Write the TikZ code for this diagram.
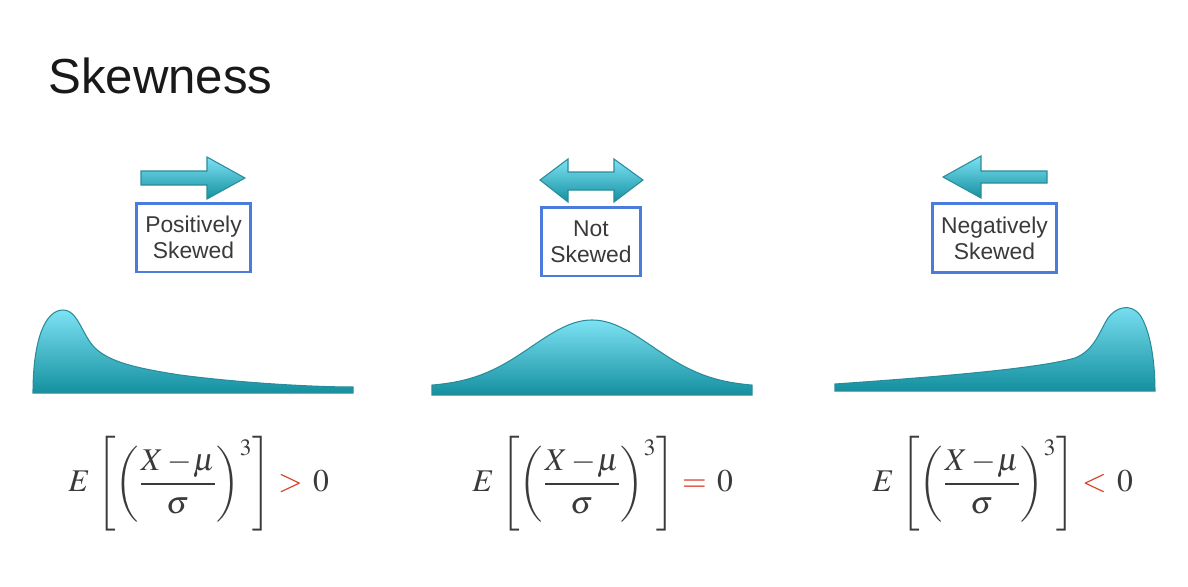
\documentclass[tikz,border=0pt]{standalone}
\usepackage{mathptmx}
\usepackage[no-math]{fontspec}
\newfontfamily\slidefont{Liberation Sans}
\usepackage{xcolor}
\definecolor{boxblue}{HTML}{4A7BDD}
\definecolor{tealdark}{HTML}{14909F}
\definecolor{teallight}{HTML}{7DE2F4}
\definecolor{tealedge}{HTML}{2A8C9A}
\definecolor{relred}{HTML}{D93A22}
\definecolor{textgray}{HTML}{3A3A3A}
\newcommand{\skewmoment}[1]{$\displaystyle E\mkern2mu\left[\left(\frac{X-\!\mu}{\sigma}\right)^{3}\right]\mathrel{\textcolor{relred}{#1}}\,0$}

\begin{document}
\begin{tikzpicture}[x=0.02cm, y=-0.02cm,
    lbl/.style={draw=boxblue, line width=1.7pt, fill=white, align=center, inner xsep=0.17cm,
        minimum height=1.38cm, text=textgray, font=\slidefont\fontsize{13}{14.8}\selectfont},
    hump/.style={top color=teallight, bottom color=tealdark, draw=tealedge, line width=0.6pt},
    formula/.style={anchor=west, inner sep=0pt, text=textgray, font=\fontsize{18}{21}\selectfont}]
    \useasboundingbox (0,0) rectangle (1188,586);
    \node[anchor=base west, inner sep=0pt, text=black!90,
        font=\slidefont\fontsize{28}{32}\selectfont] (title) at (48,93) {Skewness};

    \shade[hump] (141,171)--(207,171)--(207,157)--(245,178)--(207,199)--(207,185)--(141,185)--cycle;
    \shade[hump] (540,180)--(568,159)--(568,172)--(614,172)--(614,159)--(643,180)--(614,202)
        --(614,190)--(568,190)--(568,202)--cycle;
    \shade[hump] (943,177)--(981,156)--(981,171)--(1047,171)--(1047,183)--(981,183)--(981,198)--cycle;

    \node[lbl] (pos) at (193.5,237.5) {Positively\\Skewed};
    \node[lbl] (nos) at (591,241.5) {Not\\Skewed};
    \node[lbl] (neg) at (994.5,238) {Negatively\\Skewed};

    \shade[hump] (33,393) .. controls (33,340) and (45,310) .. (63,310)
        .. controls (78,310) and (82,335) .. (95,348)
        .. controls (110,362) and (135,368) .. (180,375)
        .. controls (250,384) and (320,387) .. (353,387) -- (353,393) -- cycle;
    \shade[hump] (432,395) -- plot[domain=432:752, samples=60, smooth]
        (\x, {387 - 67*exp(-((\x-592)/85)^2)}) -- (752,395) -- cycle;
    \shade[hump] (835,391) -- (835,384) .. controls (950,376) and (1040,368) .. (1075,358)
        .. controls (1095,350) and (1100,330) .. (1108,318)
        .. controls (1115,308) and (1130,302) .. (1140,315)
        .. controls (1150,330) and (1155,360) .. (1155,391) -- cycle;

    \node[formula] (f1) at (68,484) {\skewmoment{>}};
    \node[formula] (f2) at (472,484) {\skewmoment{=}};
    \node[formula] (f3) at (872,484) {\skewmoment{<}};
\end{tikzpicture}
\end{document}
